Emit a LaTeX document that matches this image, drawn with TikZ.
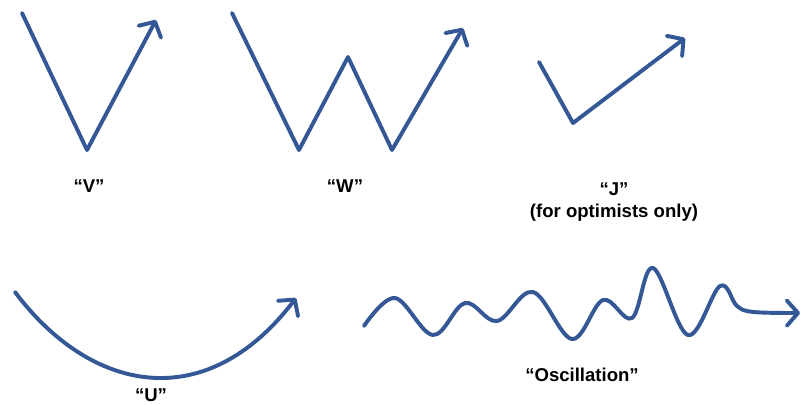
\documentclass[tikz,border=0pt]{standalone}
\usepackage{fontspec}
\setmainfont{Liberation Sans}
\usetikzlibrary{arrows.meta}
\definecolor{trendblue}{RGB}{52,88,150}

\begin{document}
\begin{tikzpicture}[x=0.025cm,y=-0.025cm,
  trend/.style={trendblue,line width=2.8pt,line join=round,line cap=round,
    -{Straight Barb[length=8pt,width=18pt,line cap=round,line join=round]}},
  lbl/.style={font=\fontsize{13.2}{16}\selectfont\bfseries,inner sep=0pt}]
\useasboundingbox (0,0) rectangle (807,404);
% V
\draw[trend] (22,13) -- (87,150) -- (156,20);
\node[lbl] (vlabel) at (89,186) {“V”};
% W
\draw[trend] (232,13) -- (299,150) -- (348,57) -- (392,150) -- (463,28);
\node[lbl] (wlabel) at (345,186) {“W”};
% J
\draw[trend] (539,62) -- (573,123) -- (685,38);
\node[lbl] (jlabel) at (614,189) {“J”};
\node[lbl] (jnote) at (614,213) {(for optimists only)};
% U
\draw[trend] (15,292) .. controls (90,392) and (205,417) .. (296,298);
\node[lbl] (ulabel) at (151,395) {“U”};
% oscillation
\draw[trend] plot[smooth,tension=0.6] coordinates {(364,326) (395,298) (433,335)
  (465,303) (497,321) (533,292) (572,339) (603,300) (632,318) (653,268)
  (688,335) (720,286) (737,306) (754,312) (800,313)};
\node[lbl] (olabel) at (582,375) {“Oscillation”};
\end{tikzpicture}
\end{document}
